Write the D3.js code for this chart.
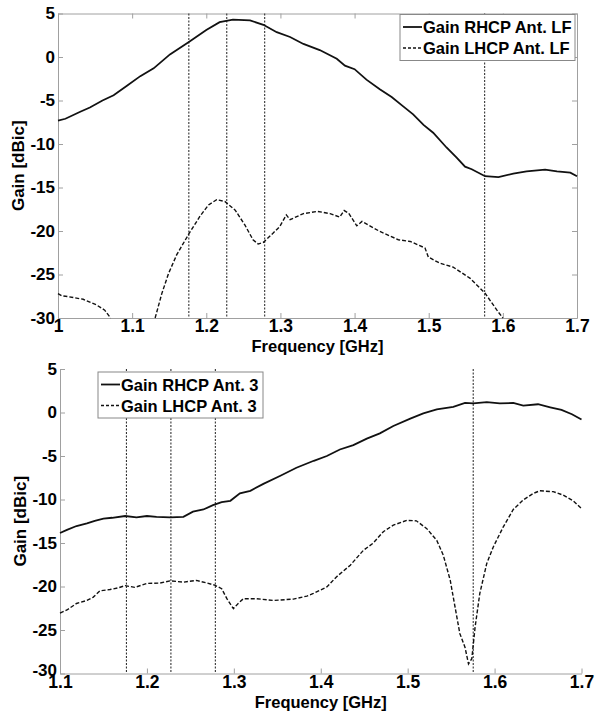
<!DOCTYPE html>
<html>
<head>
<meta charset="utf-8">
<script src="https://cdn.jsdelivr.net/npm/d3@7/dist/d3.min.js"></script>
<style>
  body { margin: 0; background: #fff; }
  text { font-family: "Liberation Sans", Arial, sans-serif; font-weight: bold; fill: #000; }
</style>
</head>
<body>
<svg id="chart" width="615" height="712"></svg>
<script>
// GPS / Galileo centre frequencies marked with dotted lines
const bandMarks = [1.17645, 1.2276, 1.27875, 1.57542];
const yTicks = [5, 0, -5, -10, -15, -20, -25, -30];
const xTicksTop = [1, 1.1, 1.2, 1.3, 1.4, 1.5, 1.6, 1.7];
const xTicksBottom = [1.1, 1.2, 1.3, 1.4, 1.5, 1.6, 1.7];

// Antenna LF
const lfRhcpFreq = [1.000, 1.010, 1.030, 1.043, 1.060, 1.075, 1.093, 1.111, 1.129, 1.151, 1.176, 1.200, 1.218, 1.236, 1.259, 1.277, 1.295, 1.313, 1.331, 1.353, 1.376, 1.387, 1.400, 1.416, 1.434, 1.450, 1.466, 1.479, 1.493, 1.506, 1.524, 1.538, 1.549, 1.558, 1.576, 1.594, 1.614, 1.632, 1.657, 1.673, 1.691, 1.700];
const lfRhcpGain = [-7.3, -7.1, -6.3, -5.8, -5.0, -4.4, -3.3, -2.2, -1.3, 0.3, 1.7, 3.1, 4.0, 4.3, 4.2, 3.7, 2.85, 2.3, 1.5, 0.8, -0.2, -1.0, -1.4, -2.6, -3.7, -4.6, -5.7, -6.6, -7.8, -8.7, -10.4, -11.6, -12.6, -12.9, -13.7, -13.8, -13.4, -13.15, -12.95, -13.15, -13.3, -13.7];
const lfLhcpFreq = [1.000, 1.005, 1.014, 1.034, 1.052, 1.063, 1.071, 1.100, 1.131, 1.140, 1.149, 1.160, 1.176, 1.1915, 1.203, 1.214, 1.225, 1.239, 1.252, 1.263, 1.270, 1.277, 1.290, 1.299, 1.308, 1.313, 1.331, 1.350, 1.367, 1.380, 1.386, 1.392, 1.403, 1.410, 1.434, 1.459, 1.475, 1.495, 1.4995, 1.515, 1.533, 1.556, 1.576, 1.592, 1.600];
const lfLhcpGain = [-27.2, -27.45, -27.55, -27.85, -28.5, -29.1, -30, null, -30, -27.2, -24.9, -22.75, -20.4, -18.3, -17.0, -16.4, -16.6, -17.6, -19.3, -21.0, -21.5, -21.3, -20.25, -19.5, -18.15, -18.7, -18.0, -17.75, -18.0, -18.4, -17.65, -17.95, -19.4, -18.9, -20.05, -21.0, -21.2, -21.95, -23.0, -23.7, -24.15, -25.45, -27.15, -29.1, -30];

// Antenna 3
const a3RhcpFreq = [1.100, 1.108, 1.119, 1.131, 1.140, 1.150, 1.160, 1.175, 1.188, 1.200, 1.211, 1.227, 1.242, 1.253, 1.265, 1.276, 1.286, 1.296, 1.307, 1.319, 1.334, 1.353, 1.372, 1.392, 1.407, 1.422, 1.4375, 1.453, 1.468, 1.4835, 1.503, 1.518, 1.5335, 1.5525, 1.566, 1.5755, 1.591, 1.606, 1.6215, 1.633, 1.650, 1.664, 1.677, 1.689, 1.700];
const a3RhcpGain = [-13.85, -13.5, -13.05, -12.75, -12.45, -12.2, -12.1, -11.9, -12.05, -11.9, -12.0, -12.05, -12.0, -11.4, -11.15, -10.65, -10.3, -10.15, -9.3, -9.0, -8.2, -7.3, -6.35, -5.55, -5.0, -4.25, -3.75, -3.0, -2.4, -1.55, -0.7, -0.1, 0.35, 0.65, 1.1, 1.05, 1.2, 1.05, 1.1, 0.8, 0.95, 0.6, 0.3, -0.2, -0.8];
const a3LhcpFreq = [1.100, 1.108, 1.119, 1.131, 1.138, 1.146, 1.1575, 1.167, 1.175, 1.186, 1.200, 1.215, 1.227, 1.242, 1.257, 1.269, 1.278, 1.286, 1.292, 1.2995, 1.305, 1.311, 1.326, 1.3455, 1.3685, 1.384, 1.3915, 1.407, 1.418, 1.434, 1.449, 1.4605, 1.472, 1.4835, 1.499, 1.510, 1.522, 1.5335, 1.541, 1.549, 1.5545, 1.560, 1.566, 1.570, 1.5738, 1.5776, 1.583, 1.591, 1.5985, 1.610, 1.6215, 1.633, 1.6445, 1.652, 1.6675, 1.679, 1.6905, 1.700];
const a3LhcpGain = [-23.05, -22.7, -21.95, -21.6, -21.25, -20.5, -20.35, -20.15, -19.9, -20.1, -19.65, -19.6, -19.35, -19.5, -19.3, -19.6, -19.85, -20.25, -21.4, -22.55, -21.95, -21.4, -21.4, -21.6, -21.45, -21.1, -20.8, -20.05, -18.9, -17.55, -15.85, -15.0, -13.7, -12.95, -12.4, -12.45, -13.35, -14.7, -16.4, -19.3, -22.35, -25.4, -27.0, -28.9, -28.3, -24.65, -20.8, -17.35, -15.45, -13.15, -11.15, -10.05, -9.3, -9.0, -9.1, -9.5, -10.15, -11.05];

const svg = d3.select("#chart");

function drawPanel(p) {
  const x = d3.scaleLinear(p.xDomain, [p.left, p.right]);
  const y = d3.scaleLinear([-30, 5], [p.bottom, p.top]);
  const g = svg.append("g");

  // axes, ticks pointing inward
  const yAxis = d3.axisLeft(y).tickValues(yTicks).tickSize(-5).tickSizeOuter(0).tickPadding(3).tickFormat(d => String(d));
  const xAxis = d3.axisBottom(x).tickValues(p.xTicks).tickSize(-5).tickSizeOuter(0).tickPadding(2).tickFormat(d => String(d));

  const ya = g.append("g").attr("transform", `translate(${p.left},0)`).call(yAxis);
  const xa = g.append("g").attr("transform", `translate(0,${p.bottom})`).call(xAxis);
  ya.selectAll("text").style("font-size", "17px").attr("font-family", null);
  xa.selectAll("text").style("font-size", "17.5px").attr("font-family", null);
  // lowest y label sits tight against the first x label, lift it a touch
  ya.selectAll(".tick").filter(d => d === -30).select("text").attr("dy", p.lowDy);

  if (p.box) {
    g.append("g").attr("transform", `translate(0,${p.top})`)
      .call(d3.axisTop(x).tickValues(p.xTicks).tickSize(-5).tickSizeOuter(0).tickFormat(""));
    g.append("g").attr("transform", `translate(${p.right},0)`)
      .call(d3.axisRight(y).tickValues(yTicks).tickSize(-5).tickSizeOuter(0).tickFormat(""));
  }
  g.selectAll(".domain, .tick line").attr("stroke", "#a0a0a0");

  // frequency markers
  g.append("g").selectAll("line")
    .data(bandMarks)
    .join("line")
    .attr("x1", d => x(d)).attr("x2", d => x(d))
    .attr("y1", y(5)).attr("y2", y(-30))
    .attr("stroke", "#333").attr("stroke-width", 1.1)
    .attr("stroke-dasharray", "2,1.5");

  const line = d3.line()
    .defined(d => d[1] !== null)
    .x(d => x(d[0]))
    .y(d => y(d[1]));

  p.series.forEach(s => {
    g.append("path")
      .datum(d3.zip(s.freq, s.gain))
      .attr("fill", "none")
      .attr("stroke", "#111")
      .attr("stroke-width", s.dash ? 1.4 : 1.8)
      .attr("stroke-dasharray", s.dash)
      .attr("d", line);
  });

  // legend
  const lg = g.append("g").attr("transform", `translate(${p.legend.x},${p.legend.y})`);
  lg.append("rect")
    .attr("width", p.legend.w).attr("height", 46)
    .attr("fill", "#fff").attr("stroke", "#888").attr("stroke-width", 1);
  p.series.forEach((s, i) => {
    const cy = 12.5 + i * 21;
    lg.append("line")
      .attr("x1", 3).attr("x2", 22).attr("y1", cy).attr("y2", cy)
      .attr("stroke", "#111").attr("stroke-width", s.dash ? 1.4 : 1.8)
      .attr("stroke-dasharray", s.dash ? "3,2" : null);
    lg.append("text")
      .attr("x", 23).attr("y", cy + 6)
      .style("font-size", "16.5px")
      .text(s.name);
  });

  // axis titles
  g.append("text")
    .attr("transform", `translate(${p.left - 34},${(p.top + p.bottom) / 2}) rotate(-90)`)
    .attr("text-anchor", "middle")
    .style("font-size", "17px")
    .text("Gain [dBic]");
  g.append("text")
    .attr("x", (p.left + p.right) / 2)
    .attr("y", p.bottom + 34)
    .attr("text-anchor", "middle")
    .style("font-size", "16.5px")
    .text("Frequency [GHz]");
}

drawPanel({
  left: 58, right: 577, top: 13.5, bottom: 318,
  xDomain: [1, 1.7], xTicks: xTicksTop, box: true, lowDy: "0.32em",
  legend: { x: 400, y: 14.5, w: 175 },
  series: [
    { name: "Gain RHCP Ant. LF", freq: lfRhcpFreq, gain: lfRhcpGain, dash: null },
    { name: "Gain LHCP Ant. LF", freq: lfLhcpFreq, gain: lfLhcpGain, dash: "4,2" }
  ]
});

drawPanel({
  left: 60, right: 581.5, top: 369, bottom: 673.5,
  xDomain: [1.1, 1.7], xTicks: xTicksBottom, box: false, lowDy: "0.1em",
  legend: { x: 98, y: 372, w: 165 },
  series: [
    { name: "Gain RHCP Ant. 3", freq: a3RhcpFreq, gain: a3RhcpGain, dash: null },
    { name: "Gain LHCP Ant. 3", freq: a3LhcpFreq, gain: a3LhcpGain, dash: "4,2" }
  ]
});
</script>
</body>
</html>
